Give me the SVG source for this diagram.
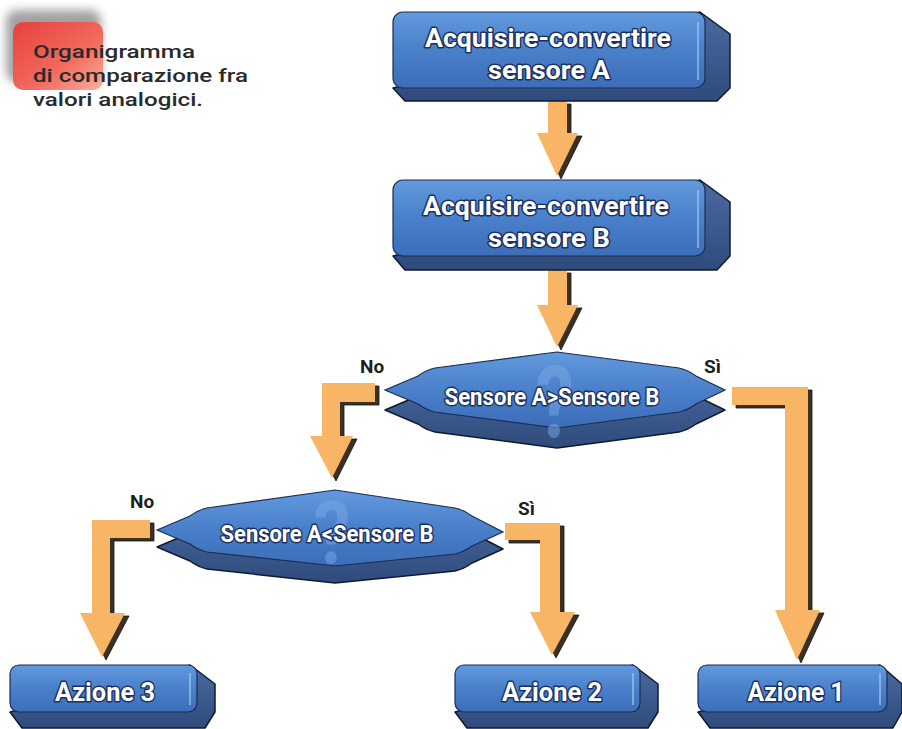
<svg xmlns="http://www.w3.org/2000/svg" width="902" height="729" viewBox="0 0 902 729">
<defs>
<linearGradient id="face" x1="0" y1="0" x2="0" y2="1">
<stop offset="0" stop-color="#6399dd"/><stop offset="0.5" stop-color="#4a80ca"/><stop offset="1" stop-color="#3c6db8"/>
</linearGradient>
<linearGradient id="side" x1="0" y1="0" x2="0" y2="1">
<stop offset="0" stop-color="#4a6aa0"/><stop offset="1" stop-color="#2f4b7c"/>
</linearGradient>
<linearGradient id="red" x1="0" y1="0" x2="1" y2="1">
<stop offset="0" stop-color="#e8403f"/><stop offset="0.6" stop-color="#f26a5e"/><stop offset="1" stop-color="#f9b2a0"/>
</linearGradient>
<filter id="blur" x="-30%" y="-30%" width="160%" height="160%"><feGaussianBlur stdDeviation="5"/></filter>
</defs>
<style>
.face{fill:url(#face);stroke:#1b2d52;stroke-width:1.2}
.side{fill:url(#side);stroke:#101a2e;stroke-width:1.5;stroke-linejoin:round}
.hl{stroke:#a8cdf5;stroke-width:1.5;fill:none;opacity:0.8}
.lbl{font-family:Roboto,"Liberation Sans",sans-serif;font-weight:bold;fill:#ffffff;stroke:#1a3060;stroke-width:2.8;paint-order:stroke;stroke-linejoin:round;text-anchor:middle}
.q{font-family:Roboto,"Liberation Sans",sans-serif;font-weight:bold;fill:#7aa9e6;opacity:0.5;text-anchor:middle}
.yn{font-family:Roboto,"Liberation Sans",sans-serif;font-weight:bold;fill:#1e1e1e;font-size:19px}
.title{font-family:Roboto,"Liberation Sans",sans-serif;font-weight:500;fill:#2a2a2a;font-size:18.5px}
.arr{fill:#f7b565}
.arrs{fill:#3a3024;stroke:#1a140c;stroke-width:0.8}
</style>

<g id="title">
<rect x="6" y="10" width="95" height="72" rx="10" fill="#8a8a8a" filter="url(#blur)" opacity="0.8"/>
<rect x="13" y="22" width="90" height="68" rx="10" fill="url(#red)"/>
<text class="title" x="33" y="58" textLength="162" lengthAdjust="spacingAndGlyphs">Organigramma</text>
<text class="title" x="33" y="82" textLength="215" lengthAdjust="spacingAndGlyphs">di comparazione fra</text>
<text class="title" x="33" y="106" textLength="170" lengthAdjust="spacingAndGlyphs">valori analogici.</text>
</g>

<g id="connectors">
<g transform="translate(4,3)" class="arrs">
<polygon points="548,101 567,101 567,133 578,133 557,176 537,133 548,133"/>
<polygon points="548,270 567,270 567,305 578,305 557,347 537,305 548,305"/>
<polygon points="375,383 375,402 340,402 340,436 353,436 332,478 310,436 322,436 322,383"/>
<polygon points="732,387 808,387 808,610 820,610 797,660 775,610 785,610 785,405 732,405"/>
<polygon points="150,520 150,538 110,538 110,613 125,613 102,657 80,613 92,613 92,520"/>
<polygon points="505,523 560,523 560,612 575,612 552,655 530,612 540,612 540,540 505,540"/>
</g>
<g class="arr">
<polygon points="548,101 567,101 567,133 578,133 557,176 537,133 548,133"/>
<polygon points="548,270 567,270 567,305 578,305 557,347 537,305 548,305"/>
<polygon points="375,383 375,402 340,402 340,436 353,436 332,478 310,436 322,436 322,383"/>
<polygon points="732,387 808,387 808,610 820,610 797,660 775,610 785,610 785,405 732,405"/>
<polygon points="150,520 150,538 110,538 110,613 125,613 102,657 80,613 92,613 92,520"/>
<polygon points="505,523 560,523 560,612 575,612 552,655 530,612 540,612 540,540 505,540"/>
</g>
<text class="yn" x="360" y="373">No</text>
<text class="yn" x="704" y="373">Sì</text>
<text class="yn" x="130" y="508">No</text>
<text class="yn" x="518" y="515">Sì</text>
</g>

<g id="box1">
<polygon class="side" points="700,12 730,34 730,88 717,101 405,101 393,88"/>
<rect class="face" x="393" y="12" width="312" height="76" rx="10"/>
<line class="hl" x1="698" y1="22" x2="698" y2="80"/>
<text class="lbl" x="548" y="47" font-size="25" textLength="246" lengthAdjust="spacingAndGlyphs">Acquisire-convertire</text>
<text class="lbl" x="549" y="79" font-size="25" textLength="122" lengthAdjust="spacingAndGlyphs">sensore A</text>
</g>

<g id="box2">
<polygon class="side" points="700,180 730,202 730,256 717,270 405,270 393,256"/>
<rect class="face" x="393" y="180" width="312" height="76" rx="10"/>
<line class="hl" x1="698" y1="190" x2="698" y2="248"/>
<text class="lbl" x="546" y="215" font-size="25" textLength="246" lengthAdjust="spacingAndGlyphs">Acquisire-convertire</text>
<text class="lbl" x="549" y="247" font-size="25" textLength="122" lengthAdjust="spacingAndGlyphs">sensore B</text>
</g>

<g id="decision1">
<path class="side" transform="translate(0,20)" d="M385,390 L418,376 Q426,370 435,368 L557,352 L679,368 Q688,370 696,376 L725,390 L696,404 Q688,410 679,412 L557,428 L435,412 Q426,410 418,404 Z"/>
<path class="face" d="M385,390 L418,376 Q426,370 435,368 L557,352 L679,368 Q688,370 696,376 L725,390 L696,404 Q688,410 679,412 L557,428 L435,412 Q426,410 418,404 Z"/>
<text class="q" x="555" y="437" font-size="100" textLength="38" lengthAdjust="spacingAndGlyphs">?</text>
<text class="lbl" x="552" y="405" font-size="23" textLength="215" lengthAdjust="spacingAndGlyphs">Sensore A&gt;Sensore B</text>
</g>

<g id="decision2">
<path class="side" transform="translate(0,17)" d="M157,530 L190,516 Q198,510 207,508 L335,490 L455,508 Q464,510 472,516 L503,532 L472,546 Q464,552 455,554 L335,566 L207,552 Q198,550 190,544 Z"/>
<path class="face" d="M157,530 L190,516 Q198,510 207,508 L335,490 L455,508 Q464,510 472,516 L503,532 L472,546 Q464,552 455,554 L335,566 L207,552 Q198,550 190,544 Z"/>
<text class="q" x="332" y="563" font-size="88" textLength="37" lengthAdjust="spacingAndGlyphs">?</text>
<text class="lbl" x="327" y="542" font-size="23" textLength="213" lengthAdjust="spacingAndGlyphs">Sensore A&lt;Sensore B</text>
</g>

<g id="action3">
<polygon class="side" points="190,665 215,684 215,712 205,728 22,728 10,712"/>
<rect class="face" x="10" y="665" width="187" height="47" rx="9"/>
<line class="hl" x1="190" y1="673" x2="190" y2="705"/>
<text class="lbl" x="105" y="701" font-size="26" textLength="100" lengthAdjust="spacingAndGlyphs">Azione 3</text>
</g>

<g id="action2">
<polygon class="side" points="633,665 658,684 658,712 648,728 467,728 455,712"/>
<rect class="face" x="455" y="665" width="185" height="47" rx="9"/>
<line class="hl" x1="633" y1="673" x2="633" y2="705"/>
<text class="lbl" x="552" y="701" font-size="26" textLength="100" lengthAdjust="spacingAndGlyphs">Azione 2</text>
</g>

<g id="action1">
<polygon class="side" points="880,665 902,684 902,712 893,728 710,728 698,712"/>
<rect class="face" x="698" y="665" width="189" height="47" rx="9"/>
<line class="hl" x1="880" y1="673" x2="880" y2="705"/>
<text class="lbl" x="796" y="701" font-size="26" textLength="97" lengthAdjust="spacingAndGlyphs">Azione 1</text>
</g>
</svg>
